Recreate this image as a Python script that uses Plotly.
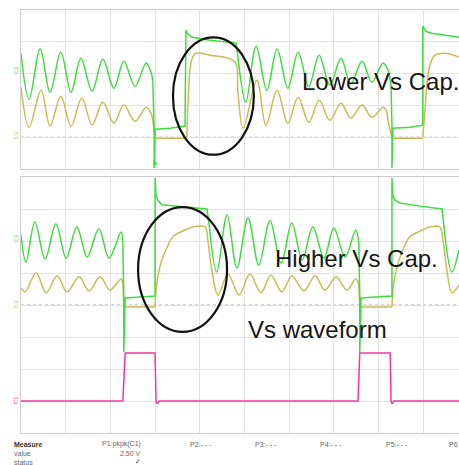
import plotly.graph_objects as go

# ---------------- data (screen divisions) ----------------
# Top panel (ground of both traces at 0 div)
top_green_ring_a_x = [0.00, 0.18, 0.43, 0.65, 0.89, 1.12, 1.34, 1.59, 1.83, 2.08, 2.30, 2.55, 2.80, 2.91, 2.95]
top_green_ring_a_y = [2.64, 1.19, 2.77, 1.42, 2.67, 1.42, 2.48, 1.45, 2.45, 1.54, 2.39, 1.60, 2.33, 2.04, 1.73]
top_green_step_a_x = [2.95, 2.98, 2.98, 3.00, 3.33, 3.67, 3.69, 3.74, 3.83, 4.23, 4.81, 4.85]
top_green_step_a_y = [1.73, 0.22, -0.97, 0.25, 0.28, 0.35, 3.36, 3.24, 3.14, 3.05, 2.96, 2.58]
top_green_ring_b_x = [4.85, 5.03, 5.26, 5.50, 5.73, 5.97, 6.20, 6.44, 6.67, 6.91, 7.16, 7.38, 7.63, 7.85, 8.10, 8.21, 8.28]
top_green_ring_b_y = [2.58, 1.10, 2.86, 1.48, 2.77, 1.54, 2.67, 1.60, 2.58, 1.64, 2.48, 1.67, 2.39, 1.73, 2.33, 2.11, 1.64]
top_green_step_b_x = [8.28, 8.30, 8.30, 8.32, 8.70, 8.99, 8.99, 9.06, 9.19, 9.80]
top_green_step_b_y = [1.64, 0.28, -0.97, 0.28, 0.31, 0.38, 3.49, 3.33, 3.27, 3.14]

top_yellow_ring_a_x = [0.00, 0.18, 0.45, 0.65, 0.89, 1.12, 1.36, 1.59, 1.83, 2.08, 2.30, 2.55, 2.80, 2.91, 2.95]
top_yellow_ring_a_y = [1.57, 0.31, 1.48, 0.35, 1.29, 0.35, 1.23, 0.38, 1.10, 0.44, 1.01, 0.50, 0.94, 0.75, 0.53]
top_yellow_step_a_x = [2.95, 3.00, 3.69, 3.71]
top_yellow_step_a_y = [0.53, -0.03, -0.03, 0.00]
top_yellow_ring_b_x = [3.71, 3.74, 3.78, 3.83, 3.91, 4.23, 4.79, 4.85, 4.97, 5.28, 5.48, 5.73, 5.97, 6.20,
                       6.44, 6.67, 6.91, 7.16, 7.38, 7.63, 7.85, 8.10, 8.17, 8.21]
top_yellow_ring_b_y = [0.00, 1.16, 2.11, 2.48, 2.64, 2.58, 2.36, 1.48, 0.28, 1.79, 0.38, 1.48, 0.44, 1.26,
                       0.47, 1.16, 0.53, 1.07, 0.60, 1.01, 0.63, 0.94, 0.85, 0.53]
top_yellow_step_b_x = [8.21, 8.30, 8.99]
top_yellow_step_b_y = [0.53, -0.03, -0.03]
top_yellow_rise_c_x = [8.99, 9.04, 9.08, 9.15, 9.26, 9.49, 9.80]
top_yellow_rise_c_y = [0.00, 0.85, 1.64, 2.26, 2.58, 2.64, 2.52]

# Bottom panel (green / yellow ground at 0 div)
bot_green_ring_a_x = [0.00, 0.11, 0.31, 0.54, 0.78, 1.01, 1.25, 1.48, 1.74, 1.97, 2.24, 2.28]
bot_green_ring_a_y = [2.19, 1.34, 2.59, 1.44, 2.53, 1.47, 2.44, 1.50, 2.38, 1.47, 2.28, 1.88]
bot_green_step_a_x = [2.28, 2.30, 2.30, 2.33, 2.66, 3.00, 3.00, 3.02, 3.06, 3.15, 3.67, 4.16, 4.21]
bot_green_step_a_y = [1.88, 0.22, -1.47, 0.22, 0.25, 0.28, 3.97, 3.44, 3.28, 3.13, 3.06, 3.00, 2.50]
bot_green_ring_b_x = [4.21, 4.38, 4.61, 4.83, 5.08, 5.32, 5.57, 5.82, 6.06, 6.29, 6.53, 6.78, 7.00, 7.25, 7.49, 7.56]
bot_green_ring_b_y = [2.50, 1.03, 2.81, 1.16, 2.72, 1.25, 2.63, 1.31, 2.56, 1.41, 2.44, 1.47, 2.41, 1.50, 2.34, 1.88]
bot_green_step_b_x = [7.56, 7.58, 7.58, 7.61, 7.92, 8.30, 8.30, 8.32, 8.36, 8.48, 8.93, 9.42, 9.46]
bot_green_step_b_y = [1.88, 0.22, -1.47, 0.22, 0.25, 0.28, 3.97, 3.44, 3.28, 3.19, 3.09, 3.00, 2.50]
bot_green_ring_c_x = [9.46, 9.64, 9.80]
bot_green_ring_c_y = [2.50, 1.03, 1.72]

bot_yellow_ring_a_x = [0.00, 0.09, 0.34, 0.56, 0.81, 1.03, 1.30, 1.52, 1.77, 1.99, 2.24, 2.28]
bot_yellow_ring_a_y = [0.53, 0.41, 1.00, 0.38, 0.91, 0.41, 0.88, 0.44, 0.88, 0.47, 0.81, 0.63]
bot_yellow_step_a_x = [2.28, 2.30, 3.00]
bot_yellow_step_a_y = [0.63, -0.06, -0.06]
bot_yellow_ring_b_x = [3.00, 3.04, 3.15, 3.27, 3.40, 3.62, 3.85, 4.12, 4.18, 4.27, 4.41, 4.63, 4.88, 5.12, 5.37,
                       5.59, 5.84, 6.06, 6.33, 6.58, 6.80, 7.05, 7.29, 7.49, 7.56]
bot_yellow_ring_b_y = [-0.06, 0.69, 1.41, 1.81, 2.13, 2.31, 2.44, 2.44, 2.03, 1.09, 0.31, 0.97, 0.31, 0.97, 0.38,
                       0.94, 0.41, 0.91, 0.44, 0.91, 0.47, 0.88, 0.47, 0.81, 0.63]
bot_yellow_step_b_x = [7.56, 7.58, 8.30]
bot_yellow_step_b_y = [0.63, -0.06, -0.06]
bot_yellow_ring_c_x = [8.30, 8.34, 8.46, 8.57, 8.70, 8.93, 9.15, 9.37, 9.44, 9.53, 9.64, 9.80]
bot_yellow_ring_c_y = [-0.06, 0.69, 1.41, 1.81, 2.13, 2.31, 2.44, 2.44, 2.03, 1.09, 0.38, 0.63]

# Vs waveform (pink), own ground placed at -3 div of the bottom panel
vs_x = [0.00, 2.28, 2.33, 3.00, 3.02, 3.04, 3.09, 7.54, 7.58, 8.26, 8.28, 8.30, 8.34, 9.80]
vs_y = [0.00, 0.00, 1.50, 1.50, 0.00, -0.09, 0.00, 0.00, 1.50, 1.50, 0.00, -0.09, 0.00, 0.00]
vs_offset = -3.0

trigger_x = [3.00]

measure_labels = ["Measure", "value", "status"]
param_names = ["P1:pkpk(C1)", "P2:- - -", "P3:- - -", "P4:- - -", "P5:- - -", "P6"]
param_value = "2.50 V"
annotations_text = ["Lower Vs Cap.", "Higher Vs Cap.", "Vs waveform"]

# ---------------- styles ----------------
GREEN = "#3fdc3f"
YELLOW = "#c6bd57"
PINK = "#f2389c"
GRID = "#e2e2e2"
BORDER = "#cccccc"

fig = go.Figure()


def seg(x, y, color, shape, xa="x", ya="y", width=1.5):
    fig.add_trace(go.Scatter(x=x, y=y, mode="lines", xaxis=xa, yaxis=ya,
                             line=dict(color=color, width=width, shape=shape,
                                       smoothing=1.0 if shape == "spline" else None),
                             hoverinfo="skip", showlegend=False))


# top panel
seg(top_yellow_ring_a_x, top_yellow_ring_a_y, YELLOW, "spline")
seg(top_yellow_step_a_x, top_yellow_step_a_y, YELLOW, "linear")
seg(top_yellow_ring_b_x, top_yellow_ring_b_y, YELLOW, "spline")
seg(top_yellow_step_b_x, top_yellow_step_b_y, YELLOW, "linear")
seg(top_yellow_rise_c_x, top_yellow_rise_c_y, YELLOW, "spline")
seg(top_green_ring_a_x, top_green_ring_a_y, GREEN, "spline")
seg(top_green_step_a_x, top_green_step_a_y, GREEN, "linear")
seg(top_green_ring_b_x, top_green_ring_b_y, GREEN, "spline")
seg(top_green_step_b_x, top_green_step_b_y, GREEN, "linear")

# bottom panel
seg(bot_yellow_ring_a_x, bot_yellow_ring_a_y, YELLOW, "spline", "x2", "y2")
seg(bot_yellow_step_a_x, bot_yellow_step_a_y, YELLOW, "linear", "x2", "y2")
seg(bot_yellow_ring_b_x, bot_yellow_ring_b_y, YELLOW, "spline", "x2", "y2")
seg(bot_yellow_step_b_x, bot_yellow_step_b_y, YELLOW, "linear", "x2", "y2")
seg(bot_yellow_ring_c_x, bot_yellow_ring_c_y, YELLOW, "spline", "x2", "y2")
seg(bot_green_ring_a_x, bot_green_ring_a_y, GREEN, "spline", "x2", "y2")
seg(bot_green_step_a_x, bot_green_step_a_y, GREEN, "linear", "x2", "y2")
seg(bot_green_ring_b_x, bot_green_ring_b_y, GREEN, "spline", "x2", "y2")
seg(bot_green_step_b_x, bot_green_step_b_y, GREEN, "linear", "x2", "y2")
seg(bot_green_ring_c_x, bot_green_ring_c_y, GREEN, "spline", "x2", "y2")
seg(vs_x, [v + vs_offset for v in vs_y], PINK, "linear", "x2", "y2")

# trigger markers
fig.add_trace(go.Scatter(x=trigger_x, y=[-0.82], mode="markers", xaxis="x", yaxis="y",
                         marker=dict(symbol="triangle-up", size=5, color=GREEN),
                         hoverinfo="skip", showlegend=False, cliponaxis=False))
fig.add_trace(go.Scatter(x=trigger_x, y=[-4.13], mode="markers", xaxis="x2", yaxis="y2",
                         marker=dict(symbol="triangle-up", size=5, color=GREEN),
                         hoverinfo="skip", showlegend=False, cliponaxis=False))

X_DOM = [21 / 459, 1.0]
ax_common = dict(showgrid=True, gridcolor=GRID, gridwidth=1, dtick=1, tick0=0,
                 showticklabels=False, ticks="", zeroline=False, fixedrange=True)

fig.update_layout(
    width=459, height=465, autosize=False,
    margin=dict(l=0, r=0, t=0, b=0),
    paper_bgcolor="white", plot_bgcolor="white",
    xaxis=dict(domain=X_DOM, range=[0, 9.8], anchor="y", showline=True, linecolor=BORDER,
               mirror=True, **ax_common),
    xaxis2=dict(domain=X_DOM, range=[0, 9.8], anchor="y2", matches="x", showline=True,
                linecolor=BORDER, mirror=True, **ax_common),
    yaxis=dict(domain=[1 - 169 / 465, 1 - 10 / 465], range=[-1, 4], anchor="x",
               showline=True, linecolor=BORDER, **ax_common),
    yaxis2=dict(domain=[1 - 433 / 465, 1 - 177 / 465], range=[-4, 4], anchor="x2",
                showline=True, linecolor=BORDER, **ax_common),
)

shapes = []
# dotted centre / ground lines
for xr, yr in (("x", "y"), ("x2", "y2")):
    shapes.append(dict(type="line", xref=xr, yref=yr, x0=0, x1=9.8, y0=0, y1=0,
                       line=dict(color="#a8a8a8", width=1, dash="dot"), layer="below"))
shapes.append(dict(type="line", xref="x", yref="y", x0=5, x1=5, y0=-1, y1=4,
                   line=dict(color="#a8a8a8", width=1, dash="dot"), layer="below"))
shapes.append(dict(type="line", xref="x2", yref="y2", x0=5, x1=5, y0=-4, y1=4,
                   line=dict(color="#a8a8a8", width=1, dash="dot"), layer="below"))
# ellipses
shapes.append(dict(type="circle", xref="x", yref="y", x0=3.40, x1=5.21, y0=-0.55, y1=3.14,
                   line=dict(color="#111111", width=2.2), layer="above"))
shapes.append(dict(type="circle", xref="x2", yref="y2", x0=2.62, x1=4.61, y0=-0.84, y1=3.06,
                   line=dict(color="#111111", width=2.2), layer="above"))
fig.update_layout(shapes=shapes)

ann = []
FONT = "Liberation Sans, Arial, sans-serif"
big = dict(family=FONT, size=24, color="#161616")
ann.append(dict(text=annotations_text[0], x=300 / 459, y=1 - 82 / 465, xref="paper", yref="paper",
                xanchor="left", yanchor="middle", showarrow=False, font=big))
ann.append(dict(text=annotations_text[1], x=273 / 459, y=1 - 258 / 465, xref="paper", yref="paper",
                xanchor="left", yanchor="middle", showarrow=False, font=big))
ann.append(dict(text=annotations_text[2], x=246 / 459, y=1 - 329 / 465, xref="paper", yref="paper",
                xanchor="left", yanchor="middle", showarrow=False, font=big))

# channel markers on the left edge
small = lambda c: dict(family=FONT, size=6, color=c)
for txt, ypx, col in (("C2", 70, GREEN), ("C3", 135, YELLOW), ("C2", 238, GREEN),
                      ("C3", 304, YELLOW), ("C1", 400, PINK)):
    ann.append(dict(text=txt, x=16 / 459, y=1 - ypx / 465, xref="paper", yref="paper",
                    xanchor="center", yanchor="middle", showarrow=False, textangle=-90,
                    font=small(col)))

# measurement table
tf = dict(family=FONT, size=7, color="#666666")
rows_y = [444, 453, 462]
for i, lab in enumerate(measure_labels):
    f = dict(tf)
    if i == 0:
        f = dict(family=FONT, size=7, color="#333333")
        lab = "<b>" + lab + "</b>"
    ann.append(dict(text=lab, x=12 / 459, y=1 - rows_y[i] / 465, xref="paper", yref="paper",
                    xanchor="left", yanchor="middle", showarrow=False, font=f))
param_x = [143, 188, 253, 318, 384, 447]
for i, p in enumerate(param_names):
    if i == 0:
        ann.append(dict(text=p, x=143 / 459, y=1 - 444 / 465, xref="paper", yref="paper",
                        xanchor="right", yanchor="middle", showarrow=False, font=tf))
    else:
        ann.append(dict(text=p, x=param_x[i] / 459, y=1 - 444 / 465, xref="paper", yref="paper",
                        xanchor="left", yanchor="middle", showarrow=False, font=tf))
ann.append(dict(text=param_value, x=143 / 459, y=1 - 453 / 465, xref="paper", yref="paper",
                xanchor="right", yanchor="middle", showarrow=False, font=tf))
ann.append(dict(text="✓", x=143 / 459, y=1 - 462 / 465, xref="paper", yref="paper",
                xanchor="right", yanchor="middle", showarrow=False,
                font=dict(family="DejaVu Sans", size=7, color="#333333")))
fig.update_layout(annotations=ann)

div = fig.to_html(full_html=False, include_plotlyjs=True,
                  config={"displayModeBar": False, "staticPlot": True})
html = ("<!DOCTYPE html><html><head><meta charset='utf-8'>"
        "<style>html,body{margin:0;padding:0;overflow:hidden;background:#fff;}</style>"
        "</head><body>" + div + "</body></html>")
with open("out.html", "w", encoding="utf-8") as fh:
    fh.write(html)
